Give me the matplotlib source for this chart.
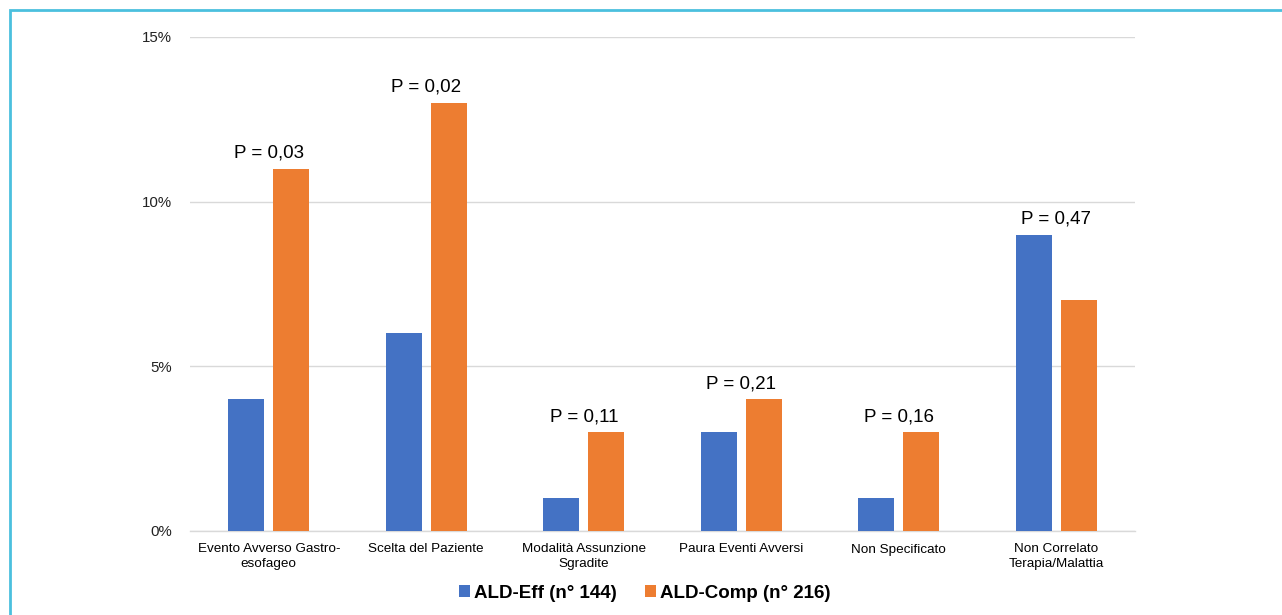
import numpy as np
import matplotlib
matplotlib.use("Agg")
import matplotlib.pyplot as plt
from matplotlib.patches import Rectangle
from matplotlib.ticker import FuncFormatter

categories = [
    "Evento Avverso Gastro-\nesofageo",
    "Scelta del Paziente",
    "Modalità Assunzione\nSgradite",
    "Paura Eventi Avversi",
    "Non Specificato",
    "Non Correlato\nTerapia/Malattia",
]
ald_eff = [4, 6, 1, 3, 1, 9]
ald_comp = [11, 13, 3, 4, 3, 7]
p_values = ["P = 0,03", "P = 0,02", "P = 0,11", "P = 0,21", "P = 0,16", "P = 0,47"]
series_names = ["ALD-Eff (n° 144)", "ALD-Comp (n° 216)"]

plt.rcParams["font.family"] = ["Liberation Sans", "DejaVu Sans"]

fig = plt.figure(figsize=(12.82, 6.15), dpi=100)
ax = fig.add_axes([190 / 1282, 1 - 531 / 615, (1135 - 190) / 1282, (531 - 37) / 615])

x = np.arange(len(categories))
w = 0.228
off = 0.1425
ax.bar(x - off, ald_eff, w, color="#4472C4", label=series_names[0], zorder=3)
ax.bar(x + off, ald_comp, w, color="#ED7D31", label=series_names[1], zorder=3)

for i, txt in enumerate(p_values):
    top = max(ald_eff[i], ald_comp[i])
    ax.annotate(txt, (x[i], top), xytext=(0, 5), textcoords="offset points",
                ha="center", va="bottom", fontsize=13.5, color="#000000")

ax.set_xlim(-0.5, len(categories) - 0.5)
ax.set_ylim(0, 15)
ax.set_yticks([0, 5, 10, 15])
ax.yaxis.set_major_formatter(FuncFormatter(lambda v, _: f"{v:.0f}%"))
ax.set_xticks(x)
ax.set_xticklabels(categories, fontsize=9.7, color="#000000", linespacing=1.25)
ax.tick_params(axis="y", labelsize=10.8, length=0, pad=13, labelcolor="#222222")
ax.tick_params(axis="x", length=0, pad=9)
ax.grid(axis="y", color="#D9D9D9", linewidth=1, zorder=0)
for s in ["top", "right", "left"]:
    ax.spines[s].set_visible(False)
ax.spines["bottom"].set_color("#D9D9D9")
ax.spines["bottom"].set_linewidth(1)

leg = fig.legend(loc="center", bbox_to_anchor=(645 / 1282, 1 - 593 / 615), ncol=2, frameon=False,
                 prop={"weight": "bold", "size": 13.5}, handlelength=0.55, handleheight=0.55,
                 handletextpad=0.25, columnspacing=1.5)

# frame line along the top and left edges
fig.add_artist(Rectangle((10 / 1282, -0.1), 1.2, 1 - 10 / 615 + 0.1, transform=fig.transFigure,
                         fill=False, edgecolor="#4BC0DE", linewidth=2))

fig.savefig("out.png", dpi=100)
